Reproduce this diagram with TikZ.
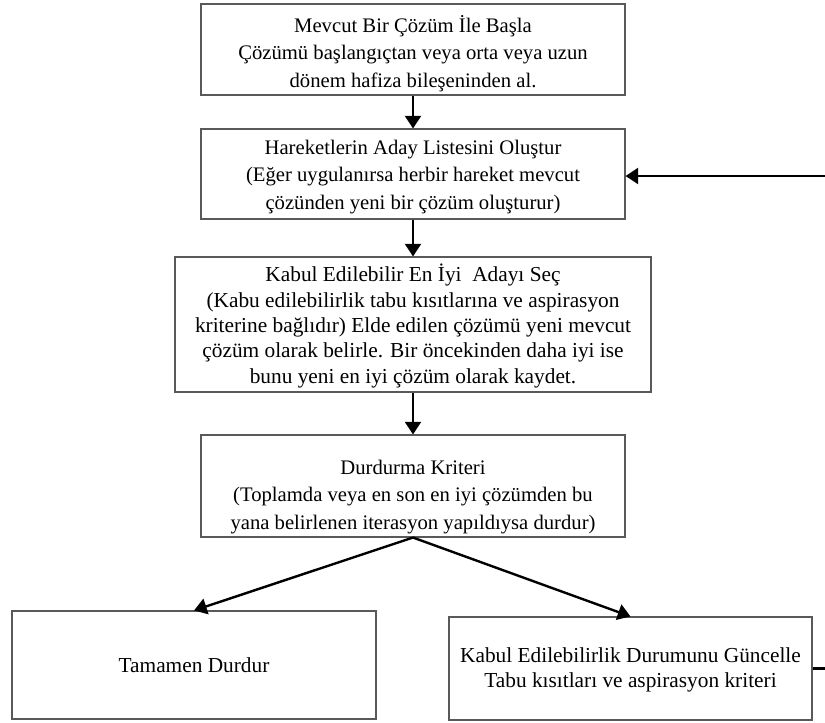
\documentclass[tikz,border=0pt]{standalone}
\usepackage{fontspec}
\setmainfont{Liberation Serif}
\usetikzlibrary{arrows.meta}

\tikzset{
  box/.style={draw=black!65, line width=0.8pt, rectangle, inner sep=0pt},
  txt/.style={align=center, inner sep=0pt, font=\fontsize{15.5}{20.6}\selectfont},
  txtb/.style={align=center, inner sep=0pt, font=\fontsize{16}{19}\selectfont},
  link/.style={line width=1.8pt, black},
  flow/.style={link, -{Triangle[length=9.5pt,width=12pt]}, shorten >=0pt}
}

\begin{document}
% one unit = one pixel, y grows downwards
\begin{tikzpicture}[x=0.75pt,y=-0.75pt]
  \useasboundingbox (0,0) rectangle (825,722);

  % process boxes
  \node[box, minimum width=424*0.75pt, minimum height=91*0.75pt] (start) at (413,49.5) {};
  \node[box, minimum width=424*0.75pt, minimum height=90*0.75pt] (cand) at (413,174) {};
  \node[box, minimum width=476*0.75pt, minimum height=135*0.75pt] (select) at (413,324.5) {};
  \node[box, minimum width=424*0.75pt, minimum height=102*0.75pt] (stopcrit) at (413,486) {};
  \node[box, minimum width=364*0.75pt, minimum height=108*0.75pt] (halt) at (194,665) {};
  \node[box, minimum width=363*0.75pt, minimum height=103*0.75pt] (update) at (630.5,668.5) {};

  % box texts
  \node[txt] (starttext) at ([yshift=-3pt]start.center)
    {Mevcut Bir Çözüm İle Başla\\Çözümü başlangıçtan veya orta veya uzun\\dönem hafiza bileşeninden al.};
  \node[txt] (candtext) at ([yshift=-2pt]cand.center)
    {Hareketlerin Aday Listesini Oluştur\\(Eğer uygulanırsa herbir hareket mevcut\\çözünden yeni bir çözüm oluşturur)};
  \node[txtb] (selecttext) at ([yshift=-1pt]select.center)
    {Kabul Edilebilir En İyi~ Adayı Seç\\(Kabu edilebilirlik tabu kısıtlarına ve aspirasyon\\kriterine bağlıdır) Elde edilen çözümü yeni mevcut\\çözüm olarak belirle. Bir öncekinden daha iyi ise\\bunu yeni en iyi çözüm olarak kaydet.};
  \node[txt] (stoptext) at ([yshift=-8pt]stopcrit.center)
    {Durdurma Kriteri\\(Toplamda veya en son en iyi çözümden bu\\yana belirlenen iterasyon yapıldıysa durdur)};
  \node[txtb] (halttext) at (halt.center) {Tamamen Durdur};
  \node[txtb] (updatetext) at ([yshift=-1pt]update.center)
    {Kabul Edilebilirlik Durumunu Güncelle\\Tabu kısıtları ve aspirasyon kriteri};

  % loop ends leaving the drawing on the right
  \coordinate (loopin) at (825,176);
  \coordinate (loopout) at (825,668.5);

  % connectors
  \draw[flow] (start.south) -- (cand.north);
  \draw[flow] (cand.south) -- (select.north);
  \draw[flow] (select.south) -- (stopcrit.north);
  \draw[flow] (stopcrit.south) -- (halt.north);
  \draw[flow] (stopcrit.south) -- (update.north);
  \draw[flow] (loopin) -- (cand.east |- loopin);
  \draw[link] (update.east) -- (loopout);
\end{tikzpicture}
\end{document}
